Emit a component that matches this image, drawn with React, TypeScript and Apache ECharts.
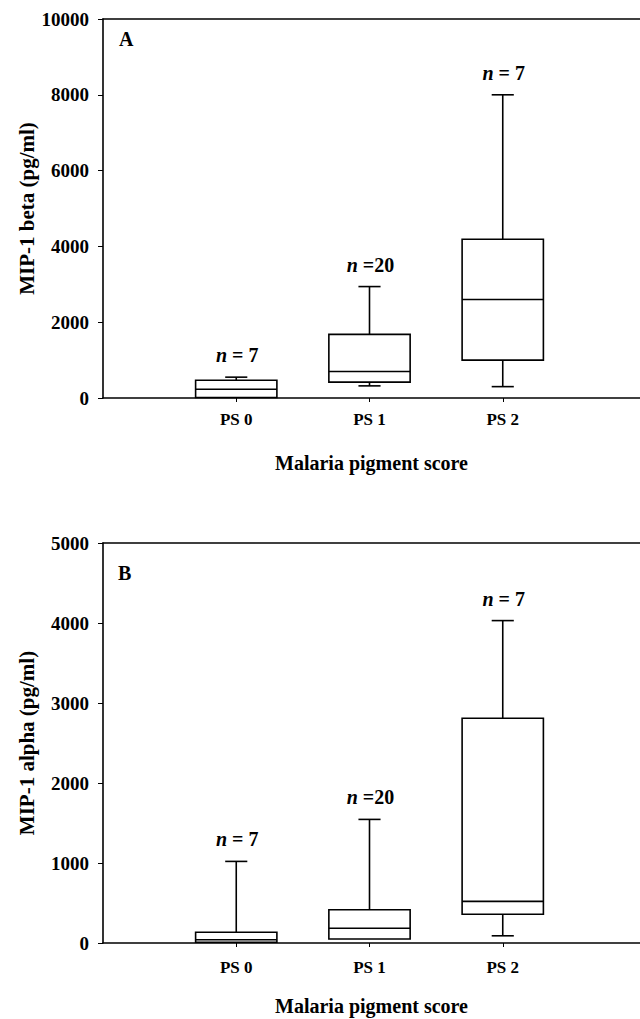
import React, { useEffect, useRef } from 'react';
import * as echarts from 'echarts';

const categories = ['PS 0', 'PS 1', 'PS 2'];
const categoryPositions = [0, 1, 2];
const sampleSizeLabelsA = ['{i|n}{r| = 7}', '{i|n}{r| =20}', '{i|n}{r| = 7}'];
const sampleSizeLabelsB = ['{i|n}{r| = 7}', '{i|n}{r| =20}', '{i|n}{r| = 7}'];

// [min, Q1, median, Q3, max]
const mip1BetaBoxes = [
  [0, 15, 230, 470, 550],
  [320, 420, 700, 1680, 2940],
  [300, 1000, 2600, 4190, 8000],
];
const mip1AlphaBoxes = [
  [0, 10, 40, 135, 1020],
  [40, 50, 185, 415, 1545],
  [90, 360, 520, 2810, 4030],
];

const yAxisA = { min: 0, max: 10000, interval: 2000, name: 'MIP-1 beta (pg/ml)' };
const yAxisB = { min: 0, max: 5000, interval: 1000, name: 'MIP-1 alpha (pg/ml)' };
const xAxisTitle = 'Malaria pigment score';
const panelLetters = ['A', 'B'];

const FONT = '"Liberation Serif", "Times New Roman", serif';

function makeRenderItem(labels: string[]) {
  return (params: any, api: any) => {
    const x = api.value(0);
    const lo = api.value(1);
    const q1 = api.value(2);
    const med = api.value(3);
    const q3 = api.value(4);
    const hi = api.value(5);
    const half = api.size([0.305, 0])[0];
    const capHalf = api.size([0.083, 0])[0];
    const cx = api.coord([x, lo])[0];
    const yLo = api.coord([x, lo])[1];
    const yQ1 = api.coord([x, q1])[1];
    const yMed = api.coord([x, med])[1];
    const yQ3 = api.coord([x, q3])[1];
    const yHi = api.coord([x, hi])[1];
    const ls = { stroke: '#000', lineWidth: 1.6 };
    const children: any[] = [
      {
        type: 'rect',
        shape: { x: cx - half, y: yQ3, width: 2 * half, height: yQ1 - yQ3 },
        style: { fill: 'none', stroke: '#000', lineWidth: 1.6 },
      },
      { type: 'line', shape: { x1: cx - half, y1: yMed, x2: cx + half, y2: yMed }, style: ls },
      { type: 'line', shape: { x1: cx, y1: yQ3, x2: cx, y2: yHi }, style: ls },
      { type: 'line', shape: { x1: cx - capHalf, y1: yHi, x2: cx + capHalf, y2: yHi }, style: ls },
    ];
    if (yLo - yQ1 > 1) {
      children.push({ type: 'line', shape: { x1: cx, y1: yQ1, x2: cx, y2: yLo }, style: ls });
      children.push({ type: 'line', shape: { x1: cx - capHalf, y1: yLo, x2: cx + capHalf, y2: yLo }, style: ls });
    }
    children.push({
      type: 'text',
      x: cx + 1,
      y: yHi - 12,
      style: {
        text: labels[params.dataIndex],
        align: 'center',
        verticalAlign: 'bottom',
        fill: '#000',
        fontFamily: FONT,
        fontWeight: 'bold',
        fontSize: 20,
        rich: {
          i: { fontStyle: 'italic', fontWeight: 'bold', fontSize: 20, fontFamily: FONT, fill: '#000' },
          r: { fontWeight: 'bold', fontSize: 20, fontFamily: FONT, fill: '#000' },
        },
      },
    });
    return { type: 'group', children };
  };
}

function App() {
  const ref = useRef<HTMLDivElement>(null);
  useEffect(() => {
    if (!ref.current) return;
    const chart = echarts.init(ref.current, null, { renderer: 'svg' });
    const axisLineStyle = { color: '#000', width: 1.6 };
    const xMin = -1;
    const xMax = 3.03;
    const bottomX = (gridIndex: number, labelMargin: number, nameGap: number) => ({
      type: 'value',
      gridIndex,
      min: xMin,
      max: xMax,
      position: 'bottom',
      axisLine: { show: true, onZero: false, lineStyle: axisLineStyle },
      axisTick: { show: true, inside: false, length: 4, customValues: categoryPositions, lineStyle: { color: '#000', width: 1 } },
      axisLabel: {
        show: true,
        customValues: categoryPositions,
        margin: labelMargin,
        formatter: (v: number) => categories[Math.round(v)] ?? '',
        color: '#000',
        fontFamily: FONT,
        fontWeight: 'bold',
        fontSize: 17,
      },
      splitLine: { show: false },
      name: xAxisTitle,
      nameLocation: 'middle',
      nameGap,
      nameMoveOverlap: false,
      nameTextStyle: { color: '#000', fontFamily: FONT, fontWeight: 'bold', fontSize: 20 },
    });
    const topX = (gridIndex: number) => ({
      type: 'value',
      gridIndex,
      min: xMin,
      max: xMax,
      position: 'top',
      axisLine: { show: true, onZero: false, lineStyle: axisLineStyle },
      axisTick: { show: false },
      axisLabel: { show: false },
      splitLine: { show: false },
    });
    const yAx = (gridIndex: number, cfg: any) => ({
      type: 'value',
      gridIndex,
      position: 'left',
      min: cfg.min,
      max: cfg.max,
      interval: cfg.interval,
      axisLine: { show: true, onZero: false, lineStyle: axisLineStyle },
      axisTick: { show: true, inside: false, length: 5, lineStyle: { color: '#000', width: 1 } },
      axisLabel: {
        margin: 14,
        color: '#000',
        fontFamily: FONT,
        fontWeight: 'bold',
        fontSize: 19,
        formatter: (v: number) => String(v),
      },
      splitLine: { show: false },
      name: cfg.name,
      nameLocation: 'middle',
      nameGap: 66,
      nameRotate: 90,
      nameMoveOverlap: false,
      nameTextStyle: { color: '#000', fontFamily: FONT, fontWeight: 'bold', fontSize: 21 },
    });
    chart.setOption({
      animation: false,
      backgroundColor: '#fff',
      grid: [
        { left: 103, top: 19, width: 537, height: 379 },
        { left: 103, top: 543, width: 537, height: 400 },
      ],
      xAxis: [bottomX(0, 13, 55), topX(0), bottomX(1, 16, 53), topX(1)],
      yAxis: [yAx(0, yAxisA), yAx(1, yAxisB)],
      graphic: [
        { type: 'text', left: 119, top: 29, style: { text: panelLetters[0], fill: '#000', font: `bold 20px ${FONT}` } },
        { type: 'text', left: 118, top: 563, style: { text: panelLetters[1], fill: '#000', font: `bold 20px ${FONT}` } },
      ],
      series: [
        {
          type: 'custom',
          xAxisIndex: 0,
          yAxisIndex: 0,
          clip: false,
          renderItem: makeRenderItem(sampleSizeLabelsA),
          encode: { x: 0, y: [1, 2, 3, 4, 5] },
          data: mip1BetaBoxes.map((b, i) => [categoryPositions[i], ...b]),
        },
        {
          type: 'custom',
          xAxisIndex: 2,
          yAxisIndex: 1,
          clip: false,
          renderItem: makeRenderItem(sampleSizeLabelsB),
          encode: { x: 0, y: [1, 2, 3, 4, 5] },
          data: mip1AlphaBoxes.map((b, i) => [categoryPositions[i], ...b]),
        },
      ],
    });
    return () => chart.dispose();
  }, []);
  return (
    <div
      ref={ref}
      style={{ position: 'fixed', left: 0, top: 0, width: 640, height: 1019, background: '#fff' }}
    />
  );
}

export default App;
